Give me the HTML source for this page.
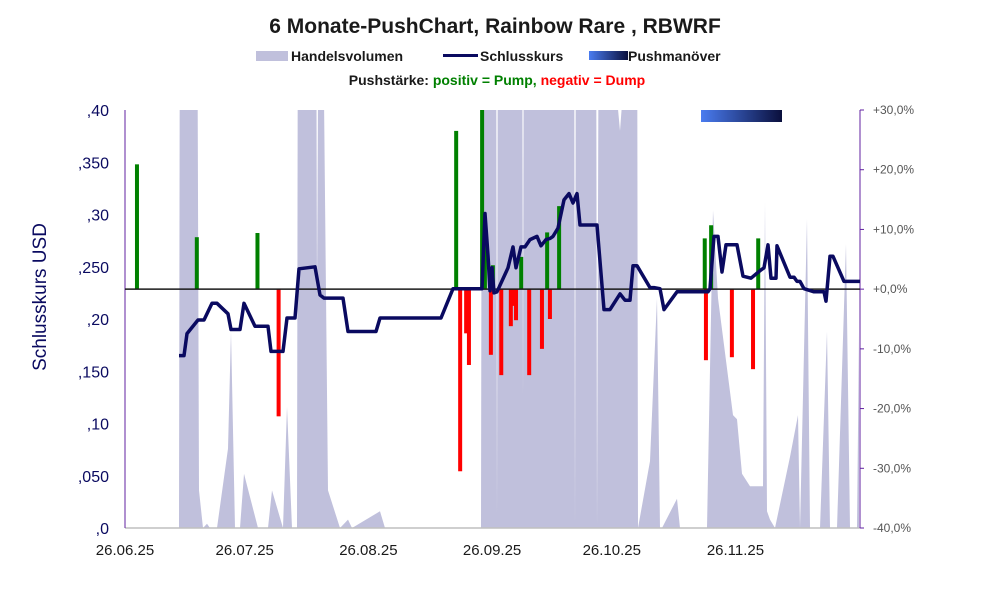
<!DOCTYPE html>
<html><head><meta charset="utf-8">
<style>
body{margin:0;background:#fff;width:991px;height:593px;overflow:hidden;font-family:"Liberation Sans",sans-serif;}
svg{display:block}
</style></head>
<body>
<svg id="chart" width="991" height="593">
<defs>
<linearGradient id="pushGrad" x1="0" x2="1" y1="0" y2="0">
<stop offset="0" stop-color="#4a7cf0"/><stop offset="1" stop-color="#0a0f3c"/>
</linearGradient>
<clipPath id="plotClip"><rect x="125" y="110" width="735" height="418"/></clipPath>
</defs>
<text x="495" y="33" text-anchor="middle" font-size="21" font-weight="bold" fill="#1a1a1a">6 Monate-PushChart, Rainbow Rare , RBWRF</text>
<g>
<rect x="256" y="51" width="32" height="10" fill="#c0c0dc"/>
<text x="291" y="61" font-size="14" font-weight="bold" fill="#1a1a1a">Handelsvolumen</text>
<rect x="443" y="54" width="35" height="3" fill="#0a0a60"/>
<text x="480" y="61" font-size="14" font-weight="bold" fill="#1a1a1a">Schlusskurs</text>
<rect x="589" y="51" width="39" height="9" fill="url(#pushGrad)"/>
<text x="628" y="61" font-size="14" font-weight="bold" fill="#1a1a1a">Pushmanöver</text>
<text x="497" y="85" text-anchor="middle" font-size="14" font-weight="bold"><tspan fill="#1a1a1a">Pushstärke:  </tspan><tspan fill="#008000">positiv = Pump,  </tspan><tspan fill="#ff0000">negativ = Dump</tspan></text>
</g>
<text transform="translate(46,297) rotate(-90)" text-anchor="middle" font-size="19" fill="#0a0a60">Schlusskurs USD</text>
<g id="vol" clip-path="url(#plotClip)"></g>
<g id="bars"></g>
<g id="axes"></g>
<g id="line"></g>
<rect x="701" y="110" width="81" height="12" fill="url(#pushGrad)"/>
</svg>
<script>
const xLabels=["26.06.25","26.07.25","26.08.25","26.09.25","26.10.25","26.11.25"];
const xLabelDays=[0,30,61,92,122,153];
const yTicks=[0,0.05,0.10,0.15,0.20,0.25,0.30,0.35,0.40];
const yTickLabels=[",0",",050",",10",",150",",20",",250",",30",",350",",40"];
const pctTicks=[-40,-30,-20,-10,0,10,20,30];
const pctTickLabels=["-40,0%","-30,0%","-20,0%","-10,0%","+0,0%","+10,0%","+20,0%","+30,0%"];
const priceDays=[13.53,14.79,15.54,18.30,19.80,21.80,23.06,25.81,26.57,28.82,29.82,32.58,35.84,36.59,39.60,40.60,42.61,43.61,47.62,48.87,49.87,54.64,55.89,62.91,63.91,79.20,82.21,89.47,90.23,90.98,91.48,91.98,92.48,93.23,95.99,97.24,97.99,99.25,100.25,101.50,103.26,104.26,105.51,106.52,107.27,108.52,110.03,111.28,112.28,113.28,114.04,118.30,120.05,121.55,124.06,125.31,126.57,127.32,128.32,131.58,132.58,134.09,135.09,138.35,146.12,146.62,147.62,148.62,149.62,150.63,153.38,154.89,156.89,159.40,160.15,161.15,161.90,163.16,163.41,166.67,167.67,168.42,169.17,170.18,172.68,175.19,175.69,176.69,177.44,180.20,184.21];
const priceVals=[0.165,0.165,0.186,0.199,0.199,0.215,0.215,0.205,0.19,0.19,0.215,0.193,0.193,0.169,0.169,0.201,0.201,0.248,0.25,0.223,0.22,0.22,0.188,0.188,0.201,0.201,0.229,0.229,0.301,0.261,0.227,0.249,0.225,0.226,0.249,0.269,0.249,0.269,0.269,0.276,0.279,0.27,0.276,0.277,0.279,0.287,0.314,0.32,0.311,0.32,0.29,0.29,0.209,0.209,0.224,0.218,0.218,0.251,0.251,0.23,0.23,0.229,0.209,0.226,0.226,0.229,0.279,0.279,0.245,0.271,0.271,0.241,0.239,0.247,0.249,0.271,0.239,0.239,0.27,0.24,0.24,0.236,0.236,0.229,0.226,0.226,0.217,0.26,0.26,0.236,0.236];
const volDays=[13.53,13.78,18.05,18.55,19.55,20.55,21.30,23.06,25.81,26.57,27.57,28.82,29.82,33.33,35.84,36.84,39.60,40.60,41.85,43.11,43.36,47.87,48.12,48.62,49.37,50.88,53.88,55.89,56.89,63.91,65.16,81.95,89.22,89.47,92.98,93.23,93.48,99.50,99.75,100.00,112.53,112.78,113.03,118.05,118.30,118.80,124.06,128.32,128.57,131.58,133.33,134.09,134.59,138.35,139.10,145.86,147.37,148.62,152.38,153.38,154.64,156.64,159.90,160.40,160.90,161.65,162.91,166.67,168.67,169.17,170.93,171.68,174.19,175.94,176.69,178.45,180.70,181.70,183.46,183.96];
const volVals=[0,150,150,9,0,1,0,0,19,47,0,0,13,0,0,9,0,29,0,0,150,150,55,150,150,9,0,2,0,4,0,0,0,150,150,2,150,150,31,150,150,0,150,150,0,150,95,150,0,16,55,0,0,7,0,0,76,55,27,26,13,10,10,78,4,2,0,17,27,0,74,0,0,47,0,0,68,0,0,47];
const pushDays=[3,18,33.2,38.5,83,84,85.5,86.2,89.5,90.2,91.7,92.2,94.3,96.7,97.2,98,99.3,101.3,104.5,105.8,106.5,108.8,145.3,145.6,146.9,152.1,157.4,158.7];
const pushVals=[20.9,8.7,9.4,-21.3,26.5,-30.5,-7.4,-12.7,30,10.7,-11,4,-14.4,-6.2,-2.8,-5.2,5.4,-14.4,-10,9.5,-5,13.9,8.5,-11.9,10.7,-11.4,-13.4,8.5];

const X0=125,X1=860,Y0=528,Y1=110,PX=3.99;
const xs=d=>X0+d*PX;
const yp=v=>Y0-(v/0.4)*(Y0-Y1);
const yv=v=>Y0-(v/100)*(Y0-Y1);
const ypct=p=>Y0-((p+40)/70)*(Y0-Y1);
const NS="http://www.w3.org/2000/svg";
function mk(tag,attrs,parent){const e=document.createElementNS(NS,tag);for(const k in attrs)e.setAttribute(k,attrs[k]);parent.appendChild(e);return e;}

const volG=document.getElementById('vol');
let pts=[];for(let i=0;i<volDays.length;i++)pts.push(xs(volDays[i]).toFixed(1)+","+yv(volVals[i]).toFixed(1));
pts.push(xs(volDays[volDays.length-1]).toFixed(1)+","+Y0);pts.unshift(xs(volDays[0]).toFixed(1)+","+Y0);
const vp=mk('polygon',{points:pts.join(" "),fill:"#c0c0dc"},volG);



const barsG=document.getElementById('bars');
for(let i=0;i<pushDays.length;i++){
  const v=pushVals[i],x=xs(pushDays[i])-2,y0=ypct(0),y=ypct(v);
  const r=mk('rect',{x:x,y:Math.min(y,y0),width:4,height:Math.abs(y0-y),fill:v>=0?"#008000":"#ff0000"},barsG);
  
  
}

const ax=document.getElementById('axes');
const bl=mk('line',{x1:X0,y1:Y0,x2:X1,y2:Y0,stroke:"#bfbfbf","stroke-width":1.5},ax);


const la=mk('line',{x1:X0,y1:Y1,x2:X0,y2:Y0,stroke:"#6020a0","stroke-width":1},ax);


const ra=mk('line',{x1:X1,y1:Y1,x2:X1,y2:Y0,stroke:"#6020a0","stroke-width":1},ax);


const zl=mk('line',{x1:X0,y1:ypct(0),x2:X1,y2:ypct(0),stroke:"#1a1a1a","stroke-width":1.5},ax);


for(let i=0;i<yTicks.length;i++){
  const t=mk('text',{x:109,y:yp(yTicks[i])+6,"text-anchor":"end","font-size":16,fill:"#0a0a60"},ax);t.textContent=yTickLabels[i];
  
  
}
for(let i=0;i<pctTicks.length;i++){
  const y=ypct(pctTicks[i]);
  const tk=mk('line',{x1:X1,y1:y,x2:X1+4,y2:y,stroke:"#6020a0"},ax);
  
  
  const t=mk('text',{x:873,y:y+4,"font-size":12,fill:"#555"},ax);t.textContent=pctTickLabels[i];
  
  
}
for(let i=0;i<xLabels.length;i++){
  const t=mk('text',{x:xs(xLabelDays[i]),y:555,"text-anchor":"middle","font-size":15,fill:"#1a1a1a"},ax);t.textContent=xLabels[i];
  
  
}

const lineG=document.getElementById('line');
let lp=[];for(let i=0;i<priceDays.length;i++)lp.push(xs(priceDays[i]).toFixed(1)+","+yp(priceVals[i]).toFixed(1));
const pl=mk('polyline',{points:lp.join(" "),fill:"none",stroke:"#0a0a60","stroke-width":3.5,"stroke-linejoin":"round"},lineG);


</script>
</body></html>
